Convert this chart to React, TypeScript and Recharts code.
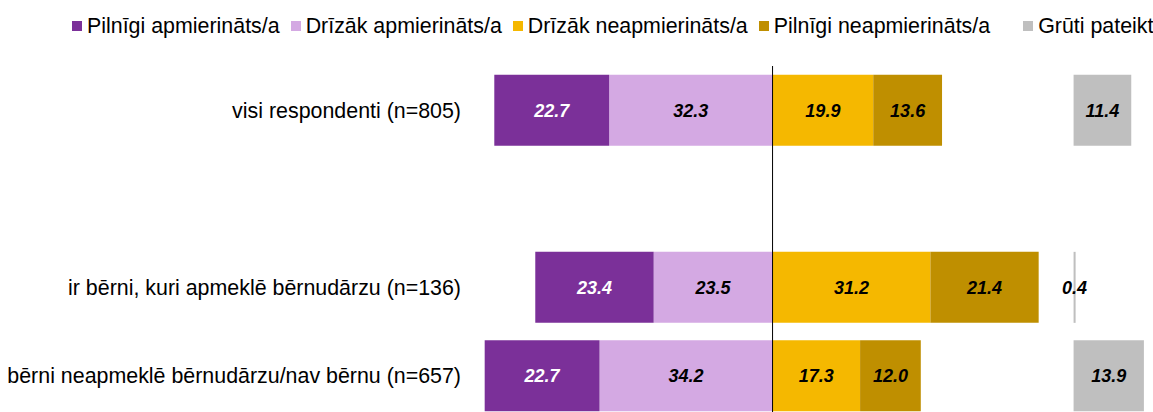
import { Bar, BarChart, LabelList, ReferenceLine, XAxis, YAxis } from 'recharts';

const FONT = '"Liberation Sans", Arial, sans-serif';

// rows top to bottom; the empty one is the gap between the total and the groups
const categories = [
    'visi respondenti (n=805)',
    '',
    'ir bērni, kuri apmeklē bērnudārzu (n=136)',
    'bērni neapmeklē bērnudārzu/nav bērnu (n=657)',
];
const pilnigiApm = [22.7, null, 23.4, 22.7];
const drizakApm = [32.3, null, 23.5, 34.2];
const drizakNeapm = [19.9, null, 31.2, 17.3];
const pilnigiNeapm = [13.6, null, 21.4, 12.0];
const grutiPateikt = [11.4, null, 0.4, 13.9];

const legendItems = [
    { name: 'Pilnīgi apmierināts/a', color: '#7B3099' },
    { name: 'Drīzāk apmierināts/a', color: '#D4A9E3' },
    { name: 'Drīzāk neapmierināts/a', color: '#F5B800' },
    { name: 'Pilnīgi neapmierināts/a', color: '#BF8F00' },
    { name: 'Grūti pateikt', color: '#BFBFBF' },
];

const neg = (v: number | null) => (v == null ? null : -v);

const rows = categories.map((name, i) => ({
    name,
    pa: neg(pilnigiApm[i]),
    da: neg(drizakApm[i]),
    dn: drizakNeapm[i],
    pn: pilnigiNeapm[i],
    gp: grutiPateikt[i],
}));

const fmt = (v: any) => (v == null || v === '' ? '' : Math.abs(Number(v)).toFixed(1));

const labelProps = {
    position: 'center' as const,
    formatter: fmt,
    fontSize: 18,
    fontWeight: 'bold',
    fontStyle: 'italic',
    fontFamily: FONT,
};

const App = () => {
    return (
        <div
            style={{
                position: 'absolute',
                left: 0,
                top: 0,
                width: 1153,
                height: 412,
                overflow: 'hidden',
                background: '#fff',
                fontFamily: FONT,
            }}
        >
            <div
                style={{
                    position: 'absolute',
                    left: 72,
                    top: 14,
                    height: 24,
                    display: 'flex',
                    alignItems: 'center',
                    fontSize: 21.4,
                    color: '#000',
                    whiteSpace: 'nowrap',
                }}
            >
                {legendItems.map((item, i) => (
                    <div
                        key={item.name}
                        style={{
                            display: 'flex',
                            alignItems: 'center',
                            marginRight: i === 3 ? 33 : 11,
                        }}
                    >
                        <span
                            style={{
                                width: 10,
                                height: 10,
                                background: item.color,
                                marginRight: 5,
                                display: 'inline-block',
                            }}
                        />
                        <span>{item.name}</span>
                    </div>
                ))}
            </div>

            <BarChart
                width={1153}
                height={420}
                data={rows}
                layout="vertical"
                stackOffset="sign"
                barCategoryGap="10%"
                margin={{ top: 66, right: 1, bottom: 0, left: 0 }}
            >
                <XAxis type="number" xAxisId="main" domain={[-60, 75]} hide />
                <XAxis type="number" xAxisId="gp" domain={[-119.5, 15.5]} hide />
                <YAxis
                    type="category"
                    yAxisId="main"
                    dataKey="name"
                    width={469}
                    axisLine={false}
                    tickLine={false}
                    tickSize={0}
                    tickMargin={8}
                    interval={0}
                    tick={{ fill: '#000', fontSize: 21.4, fontFamily: FONT }}
                />
                <YAxis type="category" yAxisId="gp" dataKey="name" orientation="right" width={0} hide />

                {/* negatives stack outward from zero: first declared sits next to the line */}
                <Bar dataKey="da" stackId="s" xAxisId="main" yAxisId="main" fill="#D4A9E3" isAnimationActive={false}>
                    <LabelList dataKey="da" fill="#000" {...labelProps} />
                </Bar>
                <Bar dataKey="pa" stackId="s" xAxisId="main" yAxisId="main" fill="#7B3099" isAnimationActive={false}>
                    <LabelList dataKey="pa" fill="#fff" {...labelProps} />
                </Bar>
                <Bar dataKey="dn" stackId="s" xAxisId="main" yAxisId="main" fill="#F5B800" isAnimationActive={false}>
                    <LabelList dataKey="dn" fill="#000" {...labelProps} />
                </Bar>
                <Bar dataKey="pn" stackId="s" xAxisId="main" yAxisId="main" fill="#BF8F00" isAnimationActive={false}>
                    <LabelList dataKey="pn" fill="#000" {...labelProps} />
                </Bar>
                <Bar dataKey="gp" stackId="g" xAxisId="gp" yAxisId="gp" fill="#BFBFBF" isAnimationActive={false}>
                    <LabelList dataKey="gp" fill="#000" {...labelProps} />
                </Bar>

                <ReferenceLine x={0} xAxisId="main" yAxisId="main" stroke="#000" strokeWidth={1} />
            </BarChart>
        </div>
    );
};

export default App;
